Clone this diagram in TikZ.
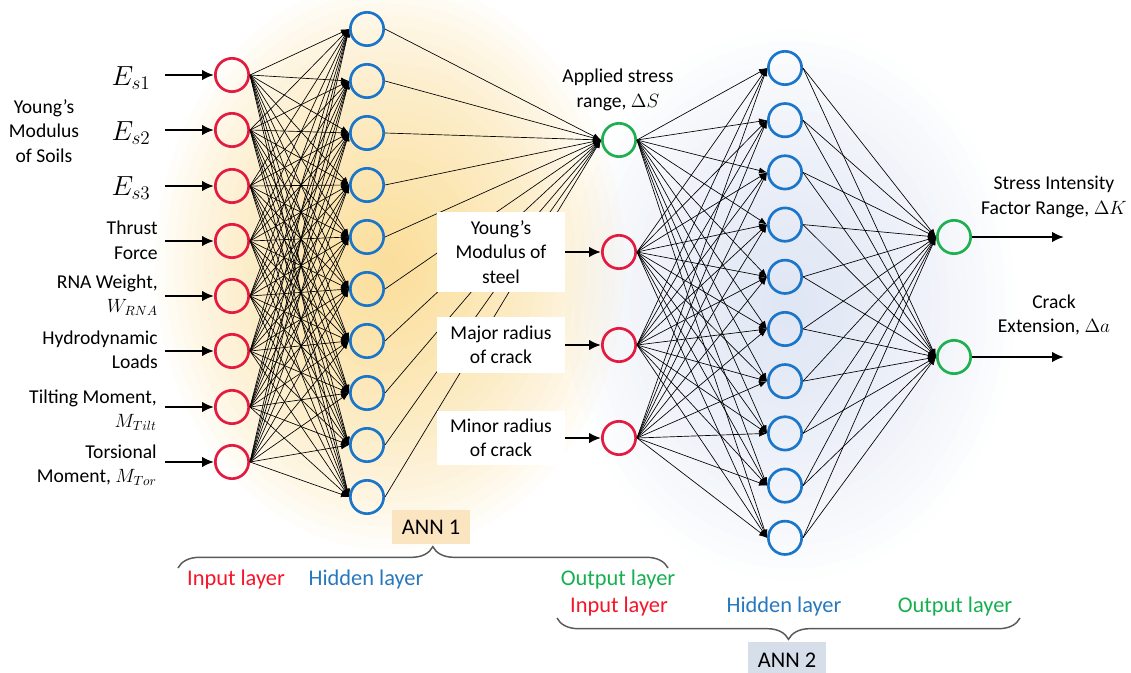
\documentclass[tikz,border=0pt]{standalone}
\usepackage{amsmath}
\usepackage{fontspec}
\setmainfont{Carlito}
\usepackage{tikz}
\usetikzlibrary{arrows.meta,decorations.pathreplacing}
\definecolor{nred}{RGB}{228,26,64}
\definecolor{nblue}{RGB}{27,117,201}
\definecolor{ngreen}{RGB}{30,176,80}
\definecolor{tred}{RGB}{245,20,40}
\definecolor{tblue}{RGB}{40,120,190}
\definecolor{tgreen}{RGB}{20,176,80}
\definecolor{annone}{RGB}{251,229,193}
\definecolor{anntwo}{RGB}{214,222,234}
\definecolor{glowy}{RGB}{248,205,105}
\definecolor{glowb}{RGB}{196,208,234}

\begin{document}
\begin{tikzpicture}[x=0.75pt,y=-0.75pt,
  neuron/.style={circle,draw,line width=2pt,minimum size=25pt,inner sep=0pt},
  link/.style={line width=0.5pt,-{Latex[length=6pt,width=4.5pt]}},
  feed/.style={line width=1.7pt,-{Latex[length=9pt,width=8pt]}},
  lbl/.style={font=\fontsize{14.7}{18.4}\selectfont,inner sep=0pt},
  emath/.style={font=\fontsize{20}{22}\selectfont,inner sep=0pt},
  whitebox/.style={lbl,fill=white,align=center,minimum width=96pt},
  tag/.style={font=\fontsize{16.8}{20}\selectfont,minimum width=59pt,inner sep=0pt},
  layer/.style={font=\fontsize{16.8}{20}\selectfont,inner sep=0pt},
  bracket/.style={draw=black!65,line width=1.1pt,decorate,decoration={brace,amplitude=16pt,aspect=#1}}]
\useasboundingbox (0,0) rectangle (1131,673);
\foreach \k in {1,...,24}{
\fill[glowy,opacity=0.045] (390,265) ellipse [x radius={235*\k/24},y radius={285*\k/24}];
\fill[glowb,opacity=0.03] (790,305) ellipse [x radius={225*\k/24},y radius={275*\k/24}];}

\foreach \yy [count=\i] in {75,130,186,241,296,351,407,462}{
\node[neuron,draw=nred] (i\i) at (232,\yy) {};
\coordinate (f\i) at (165,\yy);
\draw[feed] (f\i) -- (i\i.west);}
\foreach \i in {1,...,10}{
\node[neuron,draw=nblue] (h\i) at (367,{29+52*(\i-1)}) {};
\node[neuron,draw=nblue] (g\i) at (785,{68+52.2*(\i-1)}) {};}
\node[neuron,draw=ngreen] (s) at (619,140) {};
\node[neuron,draw=nred] (p1) at (619,252) {};
\node[neuron,draw=nred] (p2) at (619,345) {};
\node[neuron,draw=nred] (p3) at (619,438) {};
\node[neuron,draw=ngreen] (k) at (954,237) {};
\node[neuron,draw=ngreen] (a) at (954,357) {};

\foreach \i in {1,...,8}{
\foreach \j in {1,...,10}{
\draw[link] (i\i.east) -- (h\j.west);}}
\foreach \j in {1,...,10}{
\draw[link] (h\j.east) -- (s.west);
\foreach \u in {s,p1,p2,p3}{
\draw[link] (\u.east) -- (g\j.west);}
\foreach \v in {k,a}{
\draw[link] (g\j.east) -- (\v.west);}}

\node[lbl,align=center] (soil) at (44,131) {Young’s\\Modulus\\of Soils};
\foreach \yy/\ww [count=\i] in {78/1,133/2,188/3}{
\node[emath] (e\i) at (131,\yy) {$E_{s\ww}$};}
\node[lbl,align=right,anchor=east] (thrust) at (158,240) {Thrust\\Force};
\node[lbl,align=right,anchor=east] (rna) at (158,295) {RNA Weight,\\$W_{RNA}$};
\node[lbl,align=right,anchor=east] (hydro) at (158,350) {Hydrodynamic\\Loads};
\node[lbl,align=right,anchor=east] (tilt) at (157,410) {Tilting Moment,\\$M_{Tilt}$};
\node[lbl,align=right,anchor=east] (tor) at (157,465) {Torsional\\Moment, $M_{Tor}$};

\node[lbl,align=center] (stress) at (618,90) {Applied stress\\range, $\Delta S$};
\node[whitebox,minimum height=60pt] (b1) at (501,252) {Young’s\\Modulus of\\steel};
\node[whitebox,minimum height=42pt] (b2) at (501,345) {Major radius\\of crack};
\node[whitebox,minimum height=40pt] (b3) at (501,438) {Minor radius\\of crack};
\draw[feed] (b1.east) -- (p1.west);
\draw[feed] (b2.east) -- (p2.west);
\draw[feed] (b3.east) -- (p3.west);

\coordinate (ek) at (1064,237);
\coordinate (ea) at (1064,357);
\draw[feed] (k.east) -- (ek);
\draw[feed] (a.east) -- (ea);
\node[lbl,align=center] (sif) at (1054,197) {Stress Intensity\\Factor Range, $\Delta K$};
\node[lbl,align=center] (ext) at (1054,315) {Crack\\Extension, $\Delta a$};

\node[tag,fill=annone,minimum height=26pt] (ann1) at (431,527) {ANN 1};
\node[tag,fill=anntwo,minimum height=27pt] (ann2) at (787,660) {ANN 2};
\coordinate (l1) at (178,568);
\coordinate (r1) at (668,568);
\coordinate (l2) at (557,618);
\coordinate (r2) at (1020,618);
\draw[bracket=0.52] (l1) -- (r1);
\draw[bracket=0.5] (r2) -- (l2);
\node[layer,text=tred] (in1) at (236,580) {Input layer};
\node[layer,text=tblue] (hid1) at (366,580) {Hidden layer};
\node[layer,text=tgreen] (out1) at (618,580) {Output layer};
\node[layer,text=tred] (in2) at (619,607) {Input layer};
\node[layer,text=tblue] (hid2) at (784,607) {Hidden layer};
\node[layer,text=tgreen] (out2) at (955,607) {Output layer};
\end{tikzpicture}
\end{document}
